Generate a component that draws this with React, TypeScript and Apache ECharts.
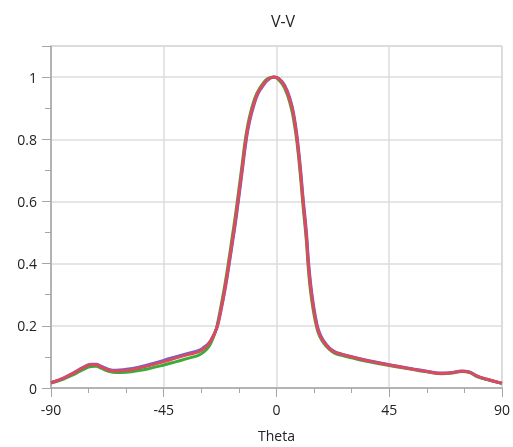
import React, { useEffect, useRef } from "react";
import * as echarts from "echarts";

const titleText = "V-V";
const xAxisName = "Theta";
const xTicks = { min: -90, max: 90, interval: 45 };
const yTicks = { min: 0, max: 1.1, interval: 0.2 };

const theta = [
  -90, -85, -81, -77, -74, -72, -70, -67, -64, -60, -55, -50, -45, -40, -35, -31,
  -29, -27, -25.5, -24.5, -23.6, -22, -20.5, -19, -17.6, -16.4, -15.4, -13.8, -12.2,
  -10.8, -9, -7.5, -5.8, -3.5, -1, 1, 3.3, 5.7, 7.1, 8.2, 9.5, 10.6, 11.9, 12.7, 13.6,
  14.7, 16.1, 17.3, 18.9, 21, 23, 26, 30, 36, 45, 54, 60, 66, 70, 74, 77, 80, 84, 90,
];

const redValues = [
  0.017, 0.032, 0.048, 0.066, 0.075, 0.075, 0.068, 0.058, 0.055, 0.057, 0.064, 0.074,
  0.085, 0.097, 0.108, 0.117, 0.127, 0.142, 0.163, 0.18, 0.2, 0.26, 0.325, 0.4, 0.475,
  0.54, 0.6, 0.7, 0.8, 0.862, 0.916, 0.948, 0.97, 0.992, 1.0, 0.994, 0.97, 0.916,
  0.862, 0.8, 0.7, 0.6, 0.49, 0.4, 0.325, 0.26, 0.2, 0.17, 0.148, 0.128, 0.116, 0.108,
  0.1, 0.088, 0.074, 0.061, 0.053, 0.047, 0.049, 0.054, 0.051, 0.038, 0.028, 0.015,
];

const blueValues = [
  0.017, 0.032, 0.049, 0.067, 0.076, 0.076, 0.07, 0.06, 0.057, 0.06, 0.067, 0.077,
  0.089, 0.101, 0.112, 0.121, 0.131, 0.145, 0.164, 0.18, 0.198, 0.255, 0.318, 0.392,
  0.466, 0.53, 0.59, 0.69, 0.79, 0.855, 0.91, 0.944, 0.967, 0.99, 1.0, 0.995, 0.973,
  0.922, 0.87, 0.81, 0.712, 0.612, 0.505, 0.415, 0.338, 0.27, 0.207, 0.175, 0.151,
  0.13, 0.118, 0.109, 0.101, 0.089, 0.075, 0.062, 0.054, 0.048, 0.05, 0.055, 0.052,
  0.039, 0.028, 0.015,
];

const greenValues = [
  0.016, 0.029, 0.043, 0.06, 0.069, 0.07, 0.064, 0.054, 0.05, 0.051, 0.056, 0.064,
  0.074, 0.085, 0.096, 0.106, 0.116, 0.133, 0.157, 0.178, 0.205, 0.27, 0.337, 0.413,
  0.49, 0.555, 0.615, 0.714, 0.812, 0.871, 0.924, 0.953, 0.975, 0.995, 1.0, 0.99,
  0.964, 0.906, 0.85, 0.788, 0.686, 0.585, 0.475, 0.385, 0.31, 0.249, 0.193, 0.165,
  0.144, 0.125, 0.113, 0.105, 0.097, 0.086, 0.072, 0.06, 0.052, 0.046, 0.048, 0.053,
  0.05, 0.037, 0.027, 0.015,
];

const seriesDefs = [
  { name: "green", color: "#3cab3c", values: greenValues },
  { name: "blue", color: "#6464d8", values: blueValues },
  { name: "red", color: "#dc4a5c", values: redValues },
];

export default function App() {
  const ref = useRef<HTMLDivElement>(null);
  useEffect(() => {
    if (!ref.current) return;
    const chart = echarts.init(ref.current, undefined, { renderer: "svg" });
    const font = "'Segoe UI', 'Open Sans', 'Noto Sans', sans-serif";
    const axisGray = "#a6a6a6";
    chart.setOption({
      animation: false,
      textStyle: { fontFamily: font },
      title: {
        text: titleText,
        left: 278,
        top: 8,
        textAlign: "center",
        textStyle: { fontSize: 16, fontWeight: "normal", color: "#222", fontFamily: font },
      },
      grid: {
        left: 51,
        right: 7,
        top: 46,
        bottom: 59,
        show: true,
        borderColor: "#b8b8b8",
        borderWidth: 1,
        backgroundColor: "transparent",
      },
      xAxis: {
        type: "value",
        min: xTicks.min,
        max: xTicks.max,
        interval: xTicks.interval,
        name: xAxisName,
        nameLocation: "middle",
        nameGap: 40,
        nameTextStyle: { fontSize: 14, color: "#222", fontFamily: font },
        axisLine: { show: true, onZero: false, lineStyle: { color: axisGray, width: 1.5 } },
        axisTick: { show: true, length: 9, lineStyle: { color: axisGray } },
        minorTick: { show: true, splitNumber: 3, length: 5, lineStyle: { color: axisGray } },
        axisLabel: { fontSize: 14, color: "#222", margin: 14, fontFamily: font },
        splitLine: { show: true, lineStyle: { color: "#dcdcdc", width: 1.5 } },
      },
      yAxis: {
        type: "value",
        min: yTicks.min,
        max: yTicks.max,
        interval: yTicks.interval,
        axisLine: { show: true, onZero: false, lineStyle: { color: axisGray, width: 1.5 } },
        axisTick: { show: true, length: 9, lineStyle: { color: axisGray } },
        minorTick: { show: true, splitNumber: 2, length: 6, lineStyle: { color: axisGray } },
        axisLabel: {
          fontSize: 14,
          color: "#222",
          margin: 14,
          fontFamily: font,
          showMaxLabel: false,
          formatter: (v: number) => String(Math.round(v * 10) / 10),
        },
        splitLine: { show: true, lineStyle: { color: "#dcdcdc", width: 1.5 } },
      },
      series: seriesDefs.map((s) => ({
        name: s.name,
        type: "line",
        data: theta.map((t, i) => [t, s.values[i]]),
        showSymbol: false,
        smooth: 0.5,
        lineStyle: { color: s.color, width: 3 },
        itemStyle: { color: s.color },
      })),
    });
    return () => chart.dispose();
  }, []);
  return (
    <div
      ref={ref}
      style={{ position: "fixed", left: 0, top: 0, width: 513, height: 447 }}
    />
  );
}
